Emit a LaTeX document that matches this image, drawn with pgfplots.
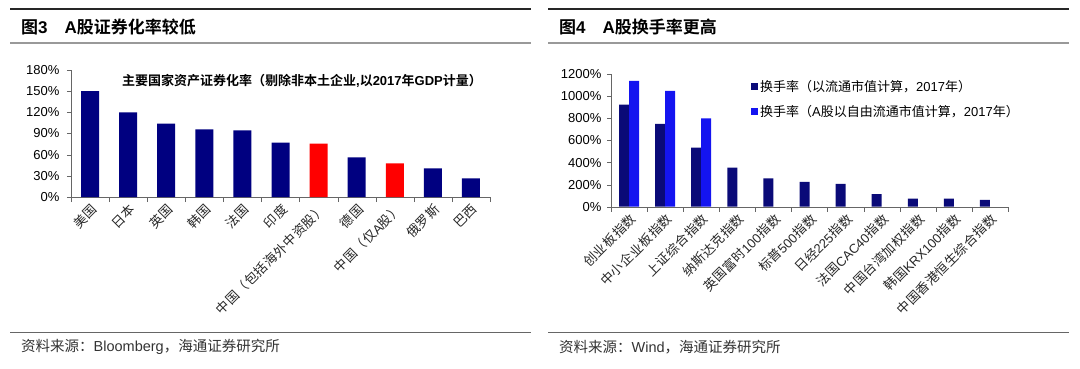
\documentclass[border=0pt]{standalone}
\usepackage{fontspec}
\setmainfont{Noto Sans CJK SC}[BoldFont=Noto Sans CJK SC Bold]
\newfontfamily\cjkw{Noto Sans CJK SC}[LetterSpace=4]
\newfontfamily\lat{Liberation Sans}
\usepackage{pgfplots}
\pgfplotsset{compat=1.18}
\definecolor{navy}{RGB}{0,0,128}
\definecolor{dnavy}{RGB}{10,10,120}
\definecolor{brblue}{RGB}{20,20,240}
\definecolor{rred}{RGB}{255,0,0}
\begin{document}
\begin{tikzpicture}[x=1pt,y=1pt]
\useasboundingbox (0,0) rectangle (1080,368);
% header / footer rules
\draw[line width=1.3pt, black!85] (10,359) -- (531,359);
\draw[line width=2pt, black!40] (10,325) -- (531,325);
\draw[line width=1pt, black!60] (10,36) -- (531,36);
\draw[line width=1.3pt, black!85] (548,359) -- (1069,359);
\draw[line width=2pt, black!40] (548,325) -- (1069,325);
\draw[line width=1pt, black!60] (548,36) -- (1069,36);
\node[anchor=west, font=\fontsize{17}{20}\selectfont\bfseries, inner sep=0pt] at (21,341) {图{\lat 3}\quad{\lat A}股证券化率较低};
\node[anchor=west, font=\fontsize{17}{20}\selectfont\bfseries, inner sep=0pt] at (559,341) {图{\lat 4}\quad{\lat A}股换手率更高};
\node[anchor=west, font=\fontsize{14.5}{16}\selectfont, inner sep=0pt, black!80] at (21,21) {资料来源：{\lat Bloomberg}，海通证券研究所};
\node[anchor=west, font=\fontsize{14.5}{16}\selectfont, inner sep=0pt, black!80] at (559,21) {资料来源：{\lat Wind}，海通证券研究所};

% ---------- left chart ----------
\begin{axis}[at={(71pt,171pt)}, anchor=south west, scale only axis,
  width=419pt, height=127pt,
  xmin=-0.5, xmax=10.5, ymin=0, ymax=180,
  ybar, bar width=18pt,
  axis x line*=bottom, axis y line*=left, axis line style={-, black!60},
  tick align=outside, major tick length=4pt, minor tick length=5pt,
  tick style={black!60},
  /pgf/number format/assume math mode=true,
  ytick={0,30,...,180}, yticklabel={\pgfmathprintnumber{\tick}\%},
  yticklabel style={font=\lat\fontsize{13}{15}\selectfont, xshift=-4pt},
  xtick={0,...,10}, major x tick style={draw=none},
  minor xtick={-0.5,0.5,...,10.5},
  xticklabels={美国,日本,英国,韩国,法国,印度,中国（包括海外中资股）,德国,中国（仅{\lat A}股）,俄罗斯,巴西},
  x tick label style={rotate=45, anchor=north east, font=\cjkw\fontsize{13}{15}\selectfont, inner sep=1pt, black!85},
  clip=false]
\addplot[fill=navy, draw=none, bar shift=0pt] coordinates {(0,150) (1,120) (2,104) (3,95.7) (4,94.3) (5,77) (7,56) (9,40.5) (10,26.5)};
\addplot[fill=rred, draw=none, bar shift=0pt] coordinates {(6,75.8) (8,47.8)};
\end{axis}
\node[font=\fontsize{13}{15}\selectfont\bfseries, inner sep=0pt] at (302,287) {主要国家资产证券化率（剔除非本土企业{\lat ,}以{\lat 2017}年{\lat GDP}计量）};

% ---------- right chart ----------
\begin{axis}[at={(611pt,161.3pt)}, anchor=south west, scale only axis,
  width=397pt, height=132.4pt,
  xmin=-0.5, xmax=10.5, ymin=0, ymax=1200,
  ybar=0pt, bar width=10pt,
  axis x line*=bottom, axis y line*=left, axis line style={-, black!60},
  tick align=outside, major tick length=4pt, minor tick length=5pt,
  tick style={black!60},
  /pgf/number format/assume math mode=true,
  ytick={0,200,...,1200}, yticklabel={\pgfmathprintnumber[1000 sep={}]{\tick}\%},
  yticklabel style={font=\lat\fontsize{13}{15}\selectfont, xshift=-2pt},
  xtick={0,...,10}, major x tick style={draw=none},
  minor xtick={-0.5,0.5,...,10.5},
  xticklabels={创业板指数,中小企业板指数,上证综合指数,纳斯达克指数,英国富时{\lat 100}指数,标普{\lat 500}指数,日经{\lat 225}指数,法国{\lat CAC40}指数,中国台湾加权指数,韩国{\lat KRX100}指数,中国香港恒生综合指数},
  x tick label style={rotate=45, anchor=north east, font=\cjkw\fontsize{13}{15}\selectfont, inner sep=1pt, black!85},
  legend style={at={(0.345,0.985)}, anchor=north west, draw=none, fill=none,
    font=\fontsize{13}{15}\selectfont, row sep=8pt},
  legend cell align=left,
  legend image code/.code={\fill[#1,draw=none] (0pt,-3.5pt) rectangle (7pt,3.5pt);},
  clip=false]
\addplot[fill=dnavy, draw=none] coordinates {(0,925) (1,750) (2,535) (3,354) (4,257) (5,224) (6,206) (7,115) (8,73) (9,73) (10,63)};
\addlegendentry{换手率（以流通市值计算，{\lat 2017}年）}
\addplot[fill=brblue, draw=none] coordinates {(0,1140) (1,1050) (2,800)};
\addlegendentry{换手率（{\lat A}股以自由流通市值计算，{\lat 2017}年）}
\end{axis}
\end{tikzpicture}
\end{document}
